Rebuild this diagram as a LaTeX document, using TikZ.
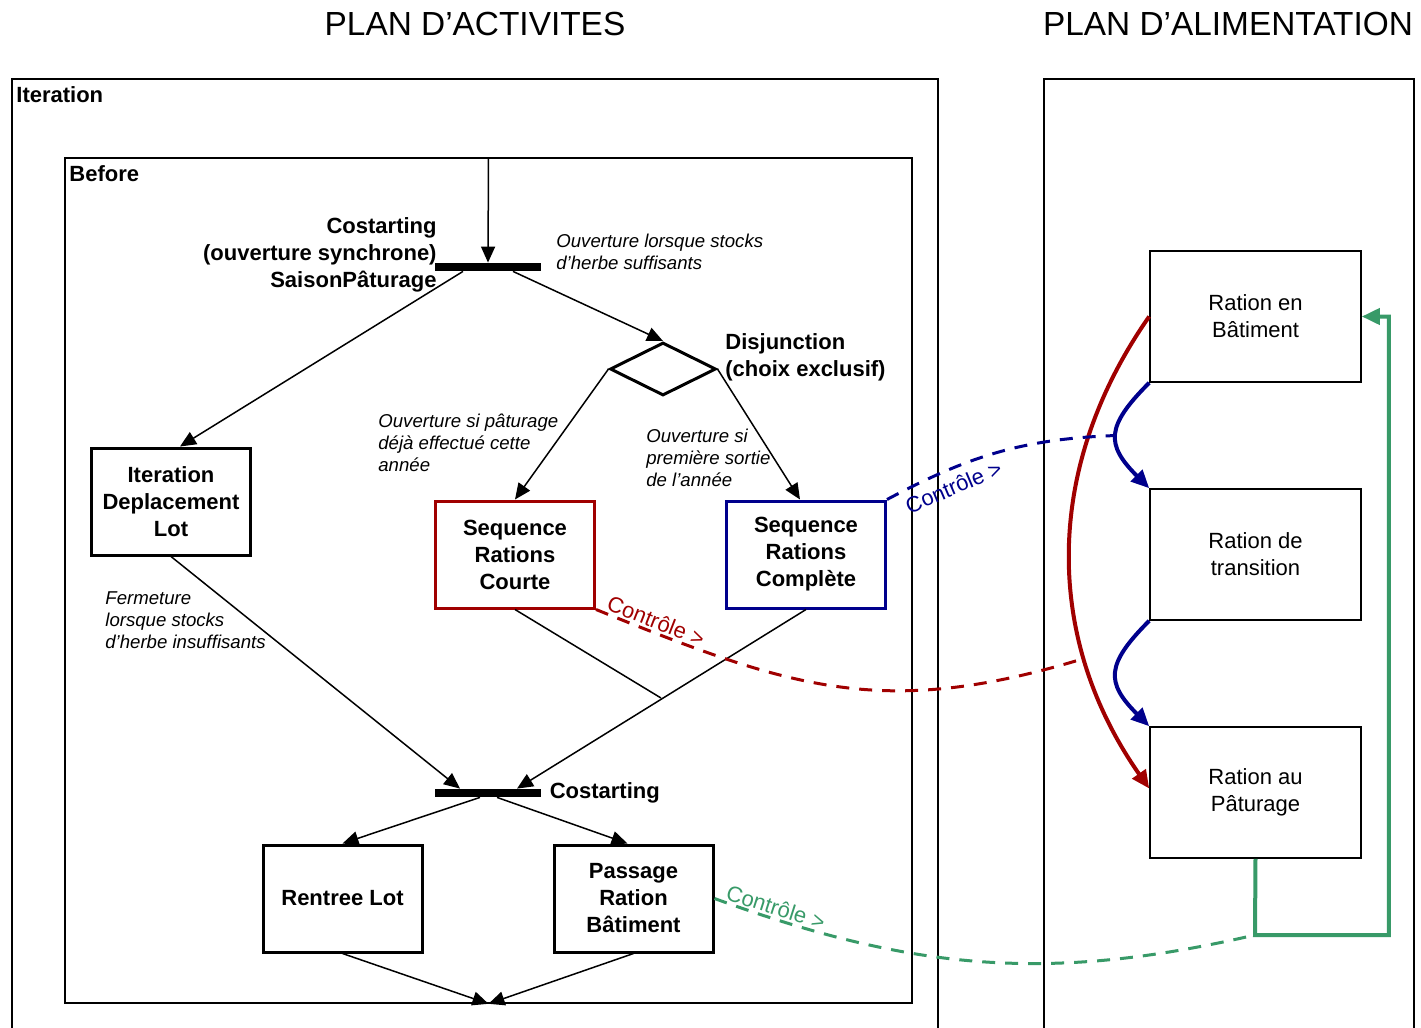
\documentclass[tikz,border=0pt]{standalone}
\usepackage{fontspec}
\setmainfont{Liberation Sans}
\usetikzlibrary{positioning,shapes.geometric,arrows.meta}
\definecolor{ctlred}{RGB}{160,0,0}
\definecolor{ctlblue}{RGB}{0,0,140}
\definecolor{ctlgreen}{RGB}{56,154,104}

\begin{document}
\begin{tikzpicture}[x=0.5pt, y=0.5pt,
  act/.style={shape=rectangle, draw, line width=1.5pt, minimum width=79.5pt, minimum height=53.5pt, align=center, inner sep=0pt, font=\bfseries\fontsize{11}{13.5}\selectfont},
  ration/.style={shape=rectangle, draw, line width=0.8pt, minimum width=105.5pt, minimum height=65.5pt, align=center, font=\fontsize{11}{13.5}\selectfont},
  bar/.style={shape=rectangle, fill=black, minimum width=53pt, minimum height=4pt, inner sep=0pt},
  frame/.style={shape=rectangle, draw, line width=0.8pt, inner sep=0pt},
  lbl/.style={inner sep=0pt, font=\bfseries\fontsize{11}{13.5}\selectfont},
  note/.style={anchor=west, align=left, inner sep=0pt, font=\itshape\fontsize{9.3}{11}\selectfont},
  flow/.style={line width=0.75pt, -{Triangle[length=8pt, width=7pt]}},
  link/.style={line width=2pt, -{Triangle[length=9pt, width=8pt]}},
  ctl/.style={line width=1.5pt, dash pattern=on 6.5pt off 5pt},
  ctltext/.style={sloped, inner sep=1pt, font=\fontsize{11}{13}\selectfont}]
\useasboundingbox (0,0) rectangle (1421,-1028);

% titles
\node [font=\fontsize{16.7}{18}\selectfont] (tact) at (475,-24) {PLAN D’ACTIVITES};
\node [font=\fontsize{16.7}{18}\selectfont] (talim) at (1228,-24) {PLAN D’ALIMENTATION};

% frames
\node [frame, minimum width=463pt, minimum height=480.5pt] (iter) at (475,-559.5) {};
\node [lbl, anchor=west] (iterlbl) at (16,-95) {Iteration};
\node [frame, minimum width=423.5pt, minimum height=422.5pt] (before) at (488.5,-580.5) {};
\node [lbl, anchor=west] (beforelbl) at (69,-174) {Before};
\node [frame, minimum width=185pt, minimum height=480.5pt] (alim) at (1229,-559.5) {};

% plan d'activites
\node [bar] (cost1) at (488,-267) {};
\node [lbl, anchor=east, align=right] (cost1lbl) at (437,-255) {Costarting\\(ouverture synchrone)\\SaisonPâturage};
\node [shape=diamond, draw, line width=1.5pt, minimum width=53pt, minimum height=26.5pt, inner sep=0pt] (disj) at (663,-369) {};
\node [lbl, anchor=west, align=left] (disjlbl) at (725,-357) {Disjunction\\(choix exclusif)};
\node [act] (idl) at (171,-501.5) {Iteration\\Deplacement\\Lot};
\node [act, draw=ctlred] (src) at (515,-554.5) {Sequence\\Rations\\Courte};
\node [act, draw=ctlblue] (srp) at (806,-554.5) {Sequence\\Rations\\Complète};
\node [bar] (cost2) at (488,-793) {};
\node [lbl, right=4pt of cost2] (cost2lbl) {Costarting};
\node [act] (rl) at (342.5,-898.5) {Rentree Lot};
\node [act] (prb) at (633.5,-898.5) {Passage\\Ration\\Bâtiment};
\coordinate (join) at (661,-698);

\node [note] (n1) at (556,-252) {Ouverture lorsque stocks\\d’herbe suffisants};
\node [note] (n2) at (378,-443) {Ouverture si pâturage\\déjà effectué cette\\année};
\node [note] (n3) at (646,-458) {Ouverture si\\première sortie\\de l’année};
\node [note] (n4) at (105,-620) {Fermeture\\lorsque stocks\\d’herbe insuffisants};

\draw [flow] (before.north) -- (cost1.north);
\draw [flow] ([xshift=-12.5pt]cost1.south) -- ([xshift=4.5pt]idl.north);
\draw [flow] ([xshift=12.5pt]cost1.south) -- (disj.north);
\draw [flow] (disj.west) -- (src.north);
\draw [flow] (disj.east) -- ([xshift=-3pt]srp.north);
\draw [flow] (idl.south) -- ([xshift=-14pt]cost2.north);
\draw [line width=0.75pt] (src.south) -- (join);
\draw [flow] (srp.south) -- ([xshift=14.5pt]cost2.north);
\draw [flow] ([xshift=-4pt]cost2.south) -- (rl.north);
\draw [flow] ([xshift=4.5pt]cost2.south) -- ([xshift=-3pt]prb.north);
\draw [flow] (rl.south) -- (before.south);
\draw [flow] (prb.south) -- (before.south);

% plan d'alimentation
\node [ration] (rb) at (1255.5,-316.5) {Ration en\\Bâtiment};
\node [ration] (rt) at (1255.5,-554.5) {Ration de\\transition};
\node [ration] (rp) at (1255.5,-792.5) {Ration au\\Pâturage};
\coordinate (gcorner) at (1255,-935);

\draw [link, ctlblue] (rb.south west) to [out=-135, in=135, looseness=1.5] coordinate [pos=0.5] (bmid) (rt.north west);
\draw [link, ctlblue] (rt.south west) to [out=-135, in=135, looseness=1.5] (rp.north west);
\draw [link, ctlred] (rb.west) to [out=-125, in=125] coordinate [pos=0.72] (rmid) ([yshift=2pt]rp.west);
\draw [link, ctlgreen] (rp.south) -- (gcorner) -| ([xshift=13.5pt]rb.east) -- (rb.east);

% controle
\draw [ctl, ctlblue] (srp.north east) to [out=28, in=182] node [ctltext, below=3pt, pos=0.26] {Contrôle >} (bmid);
\draw [ctl, ctlred] (src.south east) to [out=-22, in=197, looseness=1.1] node [ctltext, above, pos=0.1] {Contrôle >} (rmid);
\draw [ctl, ctlgreen] (prb.east) to [out=-20, in=193] node [ctltext, above, pos=0.1] {Contrôle >} (gcorner);
\end{tikzpicture}
\end{document}
